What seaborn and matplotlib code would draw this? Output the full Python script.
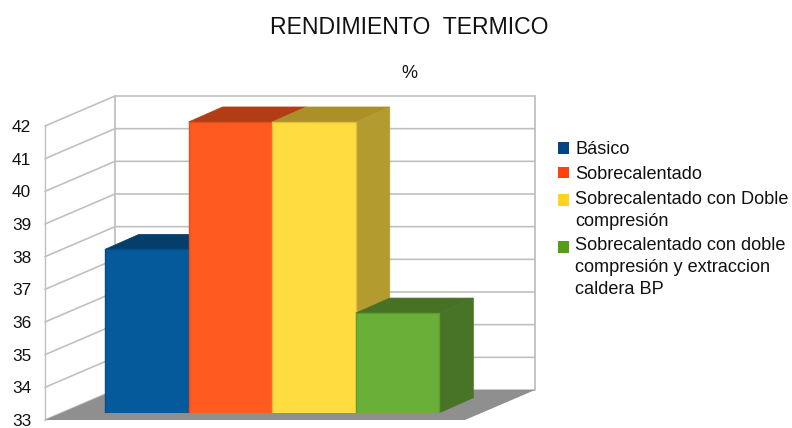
import pandas as pd
import matplotlib
matplotlib.use("Agg")
import matplotlib.pyplot as plt
from matplotlib.lines import Line2D
from matplotlib.patches import Patch, Polygon
from matplotlib.transforms import IdentityTransform
import seaborn as sns

categories = ["Básico", "Sobrecalentado", "Sobrecalentado con Doble\ncompresión",
              "Sobrecalentado con doble\ncompresión y extraccion\ncaldera BP"]
values = [38.0, 41.9, 41.9, 36.05]
y_ticks = list(range(33, 43))

front_colors = ["#055a9c", "#ff5a20", "#ffdc40", "#6aaf38"]
edge_colors = ["#054f88", "#e04f1c", "#e0c238", "#5f9c32"]
top_colors = ["#043e6b", "#b23d15", "#ab9029", "#477124"]
side_colors = ["#044a80", "#c24a1a", "#b39b30", "#487426"]
legend_colors = ["#004586", "#ff420e", "#ffd320", "#579d1c"]
grid_color = "#c0c0c0"
W, H = 792, 428

sns.set_theme(style="white")
plt.rcParams["font.family"] = ["Liberation Sans", "DejaVu Sans"]

fig = plt.figure(figsize=(W / 100, H / 100), dpi=100, facecolor="white")

def px_axes(left, top, right, bottom):
    return fig.add_axes([left / W, 1 - bottom / H, (right - left) / W, (bottom - top) / H])

# frame = front plane of the box, bars sit a bit deeper in their own axes
frame = px_axes(45, 126, 465, 420)
frame.set_xlim(0, 1)
frame.set_ylim(33, 42)
frame.patch.set_alpha(0)
frame.set_xticks([])
frame.set_yticks(y_ticks)
frame.tick_params(axis="y", length=0, pad=10, labelsize=12.4, labelcolor="#111111")
for s in ["top", "right", "bottom"]:
    frame.spines[s].set_visible(False)
frame.spines["left"].set_color(grid_color)
frame.spines["left"].set_linewidth(1.0)

depth = (70, 30)  # px, front plane to back wall
disp = IdentityTransform()

low = frame.transData.transform((0, 33))
top_l = frame.transData.transform((0, 42))
low_r = frame.transData.transform((1, 33))

floor = [low, low + depth, low_r + depth, low_r]
frame.add_patch(Polygon(floor, closed=True, transform=disp, facecolor="#8f8f8f", edgecolor="none",
                        zorder=2, clip_on=False))

for v in y_ticks:
    a = frame.transData.transform((0, v))
    b = a + depth
    c = frame.transData.transform((1, v)) + depth
    frame.add_line(Line2D([a[0], b[0], c[0]], [a[1], b[1], c[1]], transform=disp,
                          color=grid_color, lw=1.2, zorder=1, clip_on=False))
back_l = low + depth
back_r = low_r + depth
for p in [back_l, back_r]:
    frame.add_line(Line2D([p[0], p[0]], [p[1], p[1] + (top_l - low)[1]], transform=disp,
                          color=grid_color, lw=1.3, zorder=1, clip_on=False))

# bars
ax = px_axes(62, 118.7, 480, 412.7)
ax.patch.set_alpha(0)
df = pd.DataFrame({"caso": categories, "rendimiento": values})
sns.barplot(data=df, x="caso", y="rendimiento", hue="caso", palette=front_colors, saturation=1,
            width=1, dodge=False, legend=False, ax=ax)
ax.set_xlim(-1.014, 3.986)
ax.set_ylim(33, 42)
ax.axis("off")

bar_depth = (34, 15)
for i, bar in enumerate(ax.patches):
    x0, x1 = bar.get_x(), bar.get_x() + bar.get_width()
    fl = ax.transData.transform((x0, bar.get_height()))
    fr = ax.transData.transform((x1, bar.get_height()))
    br = ax.transData.transform((x1, 33))
    ax.add_patch(Polygon([fl, fl + bar_depth, fr + bar_depth, fr], closed=True, transform=disp,
                         facecolor=top_colors[i], edgecolor=top_colors[i], lw=0.5,
                         zorder=2 + 2 * i, clip_on=False))
    ax.add_patch(Polygon([fr, fr + bar_depth, br + bar_depth, br], closed=True, transform=disp,
                         facecolor=side_colors[i], edgecolor=side_colors[i], lw=0.5,
                         zorder=2 + 2 * i, clip_on=False))
    bar.set_zorder(3 + 2 * i)
    bar.set_edgecolor(edge_colors[i])
    bar.set_linewidth(1.0)

handles = [Patch(facecolor=c, edgecolor="none") for c in legend_colors]
leg = fig.legend(handles, categories, loc="upper left", bbox_to_anchor=(553 / W, 1 - 136 / H),
                 frameon=False, fontsize=13.1, handlelength=0.6, handleheight=0.6,
                 handletextpad=0.31, labelspacing=0.42, borderpad=0, borderaxespad=0.3)
for t, h, lab in zip(leg.get_texts(), leg.legend_handles, categories):
    t.set_linespacing(1.38)
    t.set_color("#111111")
    # swatch sits on the first line of a wrapped label
    h.set_y(h.get_y() + 7.6 * lab.count("\n"))

fig.text(409 / W, 1 - 27 / H, "RENDIMIENTO  TERMICO", ha="center", va="center", fontsize=16.6, color="#111111")
fig.text(409 / W, 1 - 73 / H, "%", ha="center", va="center", fontsize=13, color="#111111")

fig.savefig("out.png", dpi=100)
